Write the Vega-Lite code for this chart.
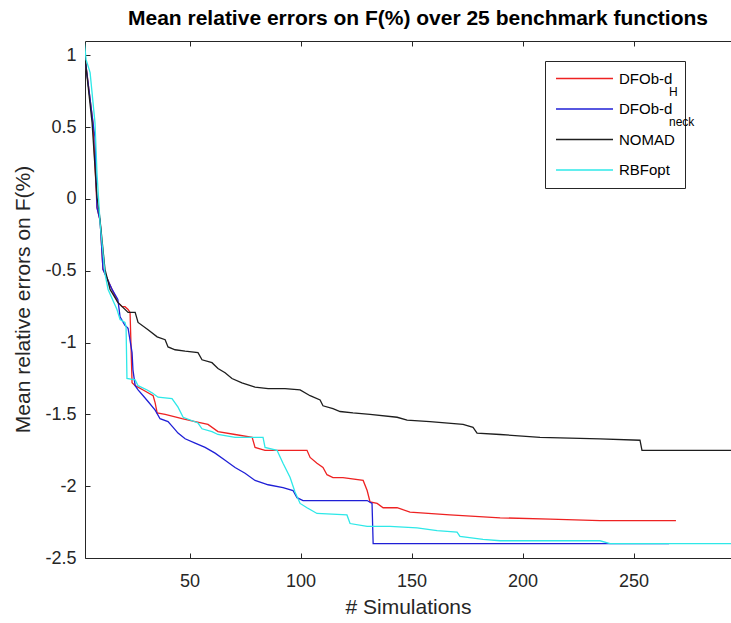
{
  "$schema": "https://vega.github.io/schema/vega-lite/v6.json",
  "width": 646,
  "height": 517,
  "autosize": {"type": "none"},
  "padding": {"left": 85, "top": 41, "right": 0, "bottom": 65},
  "background": "white",
  "title": {"text": "Mean relative errors on F(%) over 25 benchmark functions", "font": "Liberation Sans", "fontSize": 21, "fontWeight": "bold", "color": "#000000", "anchor": "middle", "offset": 8, "dx": 10},
  "config": {"view": {"stroke": null}, "font": "Liberation Sans"},
  "datasets": {
    "curves": [
      {"algo": "DFOb-d_H", "x": 3, "y": 0.97}, {"algo": "DFOb-d_H", "x": 6.5, "y": 0.53}, {"algo": "DFOb-d_H", "x": 8.3, "y": -0.06}, {"algo": "DFOb-d_H", "x": 9.7, "y": -0.15}, {"algo": "DFOb-d_H", "x": 11.0, "y": -0.49}, {"algo": "DFOb-d_H", "x": 15.1, "y": -0.63}, {"algo": "DFOb-d_H", "x": 17.7, "y": -0.72}, {"algo": "DFOb-d_H", "x": 19.6, "y": -0.75}, {"algo": "DFOb-d_H", "x": 20.9, "y": -0.75}, {"algo": "DFOb-d_H", "x": 22.3, "y": -0.77}, {"algo": "DFOb-d_H", "x": 23.2, "y": -0.79}, {"algo": "DFOb-d_H", "x": 24.1, "y": -1.28}, {"algo": "DFOb-d_H", "x": 25.5, "y": -1.30}, {"algo": "DFOb-d_H", "x": 29.1, "y": -1.33}, {"algo": "DFOb-d_H", "x": 33.6, "y": -1.37}, {"algo": "DFOb-d_H", "x": 34.5, "y": -1.42}, {"algo": "DFOb-d_H", "x": 35.4, "y": -1.49}, {"algo": "DFOb-d_H", "x": 39.0, "y": -1.50}, {"algo": "DFOb-d_H", "x": 46.6, "y": -1.53}, {"algo": "DFOb-d_H", "x": 52.5, "y": -1.55}, {"algo": "DFOb-d_H", "x": 58.3, "y": -1.57}, {"algo": "DFOb-d_H", "x": 62.8, "y": -1.62}, {"algo": "DFOb-d_H", "x": 70.5, "y": -1.64}, {"algo": "DFOb-d_H", "x": 78.2, "y": -1.66}, {"algo": "DFOb-d_H", "x": 79.5, "y": -1.73}, {"algo": "DFOb-d_H", "x": 84.0, "y": -1.75}, {"algo": "DFOb-d_H", "x": 102.9, "y": -1.75}, {"algo": "DFOb-d_H", "x": 104.3, "y": -1.80}, {"algo": "DFOb-d_H", "x": 107.4, "y": -1.84}, {"algo": "DFOb-d_H", "x": 110.1, "y": -1.87}, {"algo": "DFOb-d_H", "x": 111.9, "y": -1.92}, {"algo": "DFOb-d_H", "x": 114.6, "y": -1.94}, {"algo": "DFOb-d_H", "x": 119.1, "y": -1.94}, {"algo": "DFOb-d_H", "x": 128.2, "y": -1.96}, {"algo": "DFOb-d_H", "x": 130.0, "y": -2.03}, {"algo": "DFOb-d_H", "x": 131.3, "y": -2.11}, {"algo": "DFOb-d_H", "x": 134.5, "y": -2.12}, {"algo": "DFOb-d_H", "x": 137.2, "y": -2.15}, {"algo": "DFOb-d_H", "x": 143.5, "y": -2.15}, {"algo": "DFOb-d_H", "x": 149.3, "y": -2.18}, {"algo": "DFOb-d_H", "x": 167.3, "y": -2.20}, {"algo": "DFOb-d_H", "x": 189.9, "y": -2.22}, {"algo": "DFOb-d_H", "x": 212.4, "y": -2.23}, {"algo": "DFOb-d_H", "x": 234.9, "y": -2.24}, {"algo": "DFOb-d_H", "x": 269.1, "y": -2.24},
      {"algo": "DFOb-d_neck", "x": 3, "y": 0.97}, {"algo": "DFOb-d_neck", "x": 6.5, "y": 0.53}, {"algo": "DFOb-d_neck", "x": 7.4, "y": 0.43}, {"algo": "DFOb-d_neck", "x": 8.3, "y": -0.06}, {"algo": "DFOb-d_neck", "x": 9.7, "y": -0.15}, {"algo": "DFOb-d_neck", "x": 11.0, "y": -0.49}, {"algo": "DFOb-d_neck", "x": 15.1, "y": -0.63}, {"algo": "DFOb-d_neck", "x": 17.7, "y": -0.70}, {"algo": "DFOb-d_neck", "x": 18.7, "y": -0.82}, {"algo": "DFOb-d_neck", "x": 20.9, "y": -0.88}, {"algo": "DFOb-d_neck", "x": 22.3, "y": -0.90}, {"algo": "DFOb-d_neck", "x": 24.1, "y": -1.07}, {"algo": "DFOb-d_neck", "x": 24.5, "y": -1.19}, {"algo": "DFOb-d_neck", "x": 25.5, "y": -1.30}, {"algo": "DFOb-d_neck", "x": 26.8, "y": -1.33}, {"algo": "DFOb-d_neck", "x": 29.1, "y": -1.37}, {"algo": "DFOb-d_neck", "x": 31.3, "y": -1.41}, {"algo": "DFOb-d_neck", "x": 34.5, "y": -1.47}, {"algo": "DFOb-d_neck", "x": 36.7, "y": -1.53}, {"algo": "DFOb-d_neck", "x": 40.3, "y": -1.55}, {"algo": "DFOb-d_neck", "x": 42.6, "y": -1.59}, {"algo": "DFOb-d_neck", "x": 44.8, "y": -1.63}, {"algo": "DFOb-d_neck", "x": 48.0, "y": -1.67}, {"algo": "DFOb-d_neck", "x": 52.5, "y": -1.70}, {"algo": "DFOb-d_neck", "x": 57.0, "y": -1.73}, {"algo": "DFOb-d_neck", "x": 61.5, "y": -1.77}, {"algo": "DFOb-d_neck", "x": 66.0, "y": -1.82}, {"algo": "DFOb-d_neck", "x": 70.5, "y": -1.87}, {"algo": "DFOb-d_neck", "x": 75.0, "y": -1.91}, {"algo": "DFOb-d_neck", "x": 79.5, "y": -1.96}, {"algo": "DFOb-d_neck", "x": 85.4, "y": -1.99}, {"algo": "DFOb-d_neck", "x": 92.1, "y": -2.01}, {"algo": "DFOb-d_neck", "x": 96.6, "y": -2.03}, {"algo": "DFOb-d_neck", "x": 98.4, "y": -2.08}, {"algo": "DFOb-d_neck", "x": 101.1, "y": -2.10}, {"algo": "DFOb-d_neck", "x": 130.0, "y": -2.10}, {"algo": "DFOb-d_neck", "x": 132.2, "y": -2.12}, {"algo": "DFOb-d_neck", "x": 132.7, "y": -2.40}, {"algo": "DFOb-d_neck", "x": 137.2, "y": -2.40}, {"algo": "DFOb-d_neck", "x": 266.0, "y": -2.40},
      {"algo": "NOMAD", "x": 3, "y": 0.97}, {"algo": "NOMAD", "x": 6.1, "y": 0.53}, {"algo": "NOMAD", "x": 8.3, "y": 0.01}, {"algo": "NOMAD", "x": 9.2, "y": -0.08}, {"algo": "NOMAD", "x": 9.7, "y": -0.15}, {"algo": "NOMAD", "x": 11.9, "y": -0.49}, {"algo": "NOMAD", "x": 14.2, "y": -0.63}, {"algo": "NOMAD", "x": 17.7, "y": -0.72}, {"algo": "NOMAD", "x": 22.3, "y": -0.79}, {"algo": "NOMAD", "x": 25.5, "y": -0.79}, {"algo": "NOMAD", "x": 26.8, "y": -0.86}, {"algo": "NOMAD", "x": 31.3, "y": -0.91}, {"algo": "NOMAD", "x": 35.4, "y": -0.96}, {"algo": "NOMAD", "x": 39.0, "y": -0.98}, {"algo": "NOMAD", "x": 40.3, "y": -1.03}, {"algo": "NOMAD", "x": 43.5, "y": -1.05}, {"algo": "NOMAD", "x": 48.0, "y": -1.06}, {"algo": "NOMAD", "x": 53.8, "y": -1.07}, {"algo": "NOMAD", "x": 55.6, "y": -1.12}, {"algo": "NOMAD", "x": 60.1, "y": -1.14}, {"algo": "NOMAD", "x": 62.8, "y": -1.18}, {"algo": "NOMAD", "x": 66.0, "y": -1.21}, {"algo": "NOMAD", "x": 69.1, "y": -1.25}, {"algo": "NOMAD", "x": 73.6, "y": -1.28}, {"algo": "NOMAD", "x": 79.5, "y": -1.31}, {"algo": "NOMAD", "x": 85.4, "y": -1.32}, {"algo": "NOMAD", "x": 93.0, "y": -1.32}, {"algo": "NOMAD", "x": 99.8, "y": -1.33}, {"algo": "NOMAD", "x": 104.3, "y": -1.37}, {"algo": "NOMAD", "x": 108.8, "y": -1.40}, {"algo": "NOMAD", "x": 110.1, "y": -1.44}, {"algo": "NOMAD", "x": 114.6, "y": -1.46}, {"algo": "NOMAD", "x": 117.8, "y": -1.48}, {"algo": "NOMAD", "x": 123.6, "y": -1.49}, {"algo": "NOMAD", "x": 131.3, "y": -1.50}, {"algo": "NOMAD", "x": 143.5, "y": -1.52}, {"algo": "NOMAD", "x": 148.0, "y": -1.54}, {"algo": "NOMAD", "x": 158.3, "y": -1.55}, {"algo": "NOMAD", "x": 173.2, "y": -1.57}, {"algo": "NOMAD", "x": 177.7, "y": -1.59}, {"algo": "NOMAD", "x": 179.5, "y": -1.63}, {"algo": "NOMAD", "x": 189.9, "y": -1.64}, {"algo": "NOMAD", "x": 207.9, "y": -1.66}, {"algo": "NOMAD", "x": 234.9, "y": -1.67}, {"algo": "NOMAD", "x": 252.9, "y": -1.68}, {"algo": "NOMAD", "x": 253.8, "y": -1.75}, {"algo": "NOMAD", "x": 293.9, "y": -1.75},
      {"algo": "RBFopt", "x": 2.5, "y": 1.11}, {"algo": "RBFopt", "x": 3.4, "y": 0.97}, {"algo": "RBFopt", "x": 5.2, "y": 0.88}, {"algo": "RBFopt", "x": 7.4, "y": 0.53}, {"algo": "RBFopt", "x": 8.3, "y": 0.18}, {"algo": "RBFopt", "x": 9.7, "y": -0.17}, {"algo": "RBFopt", "x": 11.9, "y": -0.52}, {"algo": "RBFopt", "x": 13.3, "y": -0.63}, {"algo": "RBFopt", "x": 17.3, "y": -0.77}, {"algo": "RBFopt", "x": 18.7, "y": -0.84}, {"algo": "RBFopt", "x": 20.9, "y": -0.86}, {"algo": "RBFopt", "x": 21.4, "y": -0.89}, {"algo": "RBFopt", "x": 21.8, "y": -1.25}, {"algo": "RBFopt", "x": 25.5, "y": -1.26}, {"algo": "RBFopt", "x": 26.8, "y": -1.30}, {"algo": "RBFopt", "x": 30.9, "y": -1.33}, {"algo": "RBFopt", "x": 33.1, "y": -1.35}, {"algo": "RBFopt", "x": 35.8, "y": -1.38}, {"algo": "RBFopt", "x": 42.1, "y": -1.39}, {"algo": "RBFopt", "x": 44.8, "y": -1.45}, {"algo": "RBFopt", "x": 47.1, "y": -1.52}, {"algo": "RBFopt", "x": 53.8, "y": -1.56}, {"algo": "RBFopt", "x": 55.6, "y": -1.60}, {"algo": "RBFopt", "x": 60.1, "y": -1.62}, {"algo": "RBFopt", "x": 62.8, "y": -1.64}, {"algo": "RBFopt", "x": 70.5, "y": -1.66}, {"algo": "RBFopt", "x": 83.1, "y": -1.66}, {"algo": "RBFopt", "x": 84.0, "y": -1.73}, {"algo": "RBFopt", "x": 89.4, "y": -1.75}, {"algo": "RBFopt", "x": 92.1, "y": -1.84}, {"algo": "RBFopt", "x": 95.3, "y": -1.94}, {"algo": "RBFopt", "x": 97.5, "y": -2.04}, {"algo": "RBFopt", "x": 99.8, "y": -2.12}, {"algo": "RBFopt", "x": 102.9, "y": -2.15}, {"algo": "RBFopt", "x": 107.4, "y": -2.19}, {"algo": "RBFopt", "x": 120.9, "y": -2.20}, {"algo": "RBFopt", "x": 122.3, "y": -2.26}, {"algo": "RBFopt", "x": 130.0, "y": -2.28}, {"algo": "RBFopt", "x": 140.3, "y": -2.28}, {"algo": "RBFopt", "x": 152.5, "y": -2.29}, {"algo": "RBFopt", "x": 161.5, "y": -2.31}, {"algo": "RBFopt", "x": 170.5, "y": -2.32}, {"algo": "RBFopt", "x": 171.8, "y": -2.35}, {"algo": "RBFopt", "x": 182.2, "y": -2.37}, {"algo": "RBFopt", "x": 189.9, "y": -2.38}, {"algo": "RBFopt", "x": 234.9, "y": -2.38}, {"algo": "RBFopt", "x": 239.4, "y": -2.40}, {"algo": "RBFopt", "x": 293.9, "y": -2.40}
    ]
  },
  "data": {"name": "curves"},
  "resolve": {"axis": {"x": "independent"}},
  "layer": [
    {
      "mark": {"type": "line", "strokeWidth": 1.3, "clip": true},
      "encoding": {
        "x": {"field": "x", "type": "quantitative",
          "scale": {"domain": [2.9, 293.9], "nice": false, "zero": false},
          "axis": {"orient": "bottom", "values": [50, 100, 150, 200, 250], "tickSize": -5, "tickColor": "#262626", "tickWidth": 1, "domainColor": "#262626", "domainWidth": 1, "grid": false, "labelFont": "Liberation Sans", "labelFontSize": 18, "labelColor": "#262626", "labelPadding": 19, "title": "# Simulations", "titleFont": "Liberation Sans", "titleFontSize": 21, "titleFontWeight": "normal", "titleColor": "#262626", "titleBaseline": "middle", "titleY": 49}},
        "y": {"field": "y", "type": "quantitative",
          "scale": {"domain": [-2.5, 1.1], "nice": false, "zero": false},
          "axis": {"values": [-2.5, -2, -1.5, -1, -0.5, 0, 0.5, 1], "labelExpr": "toString(datum.value)", "tickSize": -5, "tickColor": "#262626", "tickWidth": 1, "domainColor": "#262626", "domainWidth": 1, "grid": false, "labelFont": "Liberation Sans", "labelFontSize": 18, "labelColor": "#262626", "labelPadding": 14, "title": "Mean relative errors on F(%)", "titleFont": "Liberation Sans", "titleFontSize": 21, "titleFontWeight": "normal", "titleColor": "#262626", "titleBaseline": "middle", "titleX": -62, "titleY": 258}},
        "color": {"field": "algo", "type": "nominal",
          "scale": {"domain": ["DFOb-d_H", "DFOb-d_neck", "NOMAD", "RBFopt"], "range": ["#ee2222", "#1f1fd6", "#1e1e1e", "#2ee8e8"]},
          "legend": {"orient": "none", "legendX": 460, "legendY": 20, "title": null, "symbolType": "stroke", "symbolSize": 3249, "symbolStrokeWidth": 1.3, "clipHeight": 15, "labelFont": "Liberation Sans", "labelFontSize": 15, "labelColor": "#000000", "labelOffset": 5, "padding": 10, "rowPadding": 14.5, "strokeColor": "#262626", "fillColor": "white", "cornerRadius": 0,
            "labelExpr": "datum.label == 'DFOb-d_H' ? 'DFOb-d' : datum.label == 'DFOb-d_neck' ? 'DFOb-d\u00a0\u00a0\u00a0\u00a0\u00a0\u00a0\u00a0\u00a0\u00a0\u00a0\u00a0\u00a0' : datum.label"}},
        "opacity": {"field": "algo", "type": "nominal",
          "scale": {"domain": ["DFOb-d_H", "DFOb-d_neck"], "range": [1, 1]},
          "legend": {"orient": "none", "legendX": 572, "legendY": 45, "title": null, "symbolType": "circle", "symbolSize": 1, "symbolOpacity": 0, "symbolStrokeWidth": 0, "clipHeight": 12, "labelFont": "Liberation Sans", "labelFontSize": 12, "labelColor": "#000000", "labelOffset": 0, "padding": 0, "rowPadding": 17.5,
            "labelExpr": "datum.label == 'DFOb-d_H' ? 'H' : 'neck'"}}
      }
    },
    {
      "mark": {"type": "point", "opacity": 0},
      "encoding": {
        "x": {"field": "x", "type": "quantitative",
          "axis": {"orient": "top", "values": [50, 100, 150, 200, 250], "labels": false, "title": null, "tickSize": -5, "tickColor": "#262626", "tickWidth": 1, "domainColor": "#262626", "domainWidth": 1, "grid": false}},
        "y": {"field": "y", "type": "quantitative"}
      }
    }
  ]
}
